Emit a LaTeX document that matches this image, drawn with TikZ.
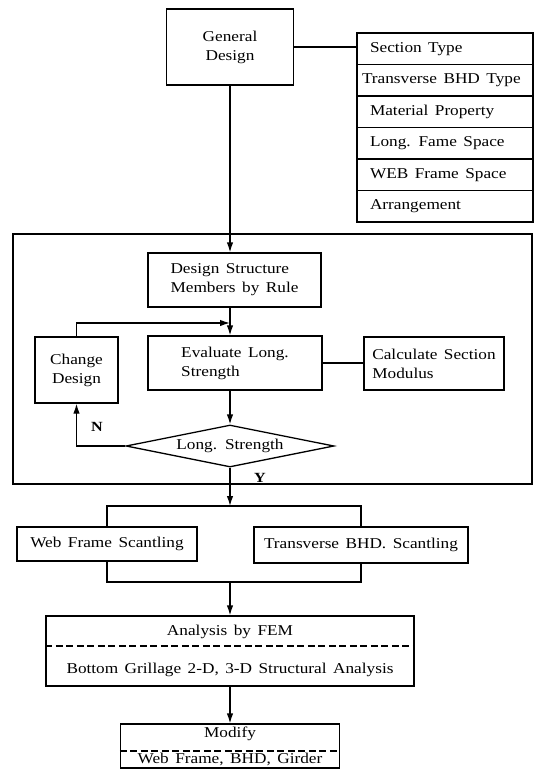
\documentclass[tikz,border=0pt]{standalone}
\usepackage{fontspec}
\setmainfont[FakeStretch=1.15,WordSpace=1.5]{Liberation Serif}
\usetikzlibrary{arrows.meta,shapes.geometric}

\begin{document}
\begin{tikzpicture}[x=1pt, y=-1pt,
        box/.style={draw, line width=1.3pt, inner sep=0pt, align=center,
                    font=\fontsize{15}{19}\selectfont},
        item/.style={draw, line width=1.2pt, minimum width=176pt, minimum height=31.5pt,
                     inner xsep=6pt, inner ysep=0pt, font=\fontsize{15}{19}\selectfont},
        arr/.style={-{Latex[length=10pt,width=6.5pt]}, line width=1.3pt},
        con/.style={line width=1.3pt},
        sep/.style={line width=1.3pt, dash pattern=on 7pt off 3.5pt},
        lbl/.style={font=\bfseries\fontsize{14}{16}\selectfont}
    ]
        \useasboundingbox (0,0) rectangle (545,769);

        % general design and its inputs
        \node[box, minimum width=127pt, minimum height=76pt] (gd) at (230,47) {General\\Design};
        \node[item] (sec) at (445,48.75)  {\makebox[150pt][l]{Section Type}};
        \node[item] (tbt) at (445,80.25)  {\makebox[150pt][l]{\hspace*{-8pt}Transverse BHD Type}};
        \node[item] (mat) at (445,111.75) {\makebox[150pt][l]{Material Property}};
        \node[item] (lfs) at (445,143.25) {\makebox[150pt][l]{Long. Fame Space}};
        \node[item] (wfsp) at (445,174.75) {\makebox[150pt][l]{WEB Frame Space}};
        \node[item] (arg) at (445,206.25) {\makebox[150pt][l]{Arrangement}};
        \draw[con] (gd.east) -- (gd.east -| sec.west);

        % longitudinal strength loop
        \node[draw, line width=1.3pt, minimum width=519pt, minimum height=250pt, inner sep=0pt] (frame) at (272.5,359) {};
        \node[box, align=left, minimum width=173pt, minimum height=54pt] (dsm) at (234.5,280) {Design Structure\\Members by Rule};
        \node[box, align=left, minimum width=174pt, minimum height=54pt] (els) at (235,363) {Evaluate Long.\\Strength};
        \node[box, align=left, minimum width=140pt, minimum height=53pt] (csm) at (434,363.5) {Calculate Section\\Modulus};
        \node[box, minimum width=83pt, minimum height=66pt] (chg) at (76.5,370) {Change\\Design};
        \node[box, diamond, aspect=5, minimum width=208pt, minimum height=42pt] (ls) at (230,446) {Long. Strength};
        \coordinate (join) at (230,323);

        \draw[arr] (gd.south) -- (gd.south |- dsm.north);
        \draw[arr] (gd.south |- dsm.south) -- (gd.south |- els.north);
        \draw[arr] (chg.north) |- (join);
        \draw[con] (els.east) -- (els.east -| csm.west);
        \draw[arr] (gd.south |- els.south) -- (ls.north);
        \draw[arr] (ls.west) -| (chg.south);
        \node[lbl] (no) at (97,427) {N};
        \node[lbl] (yes) at (260,478) {Y};

        % scantlings
        \node[box, minimum width=180pt, minimum height=34pt] (wfs) at (107,544) {Web Frame Scantling};
        \node[box, minimum width=214pt, minimum height=36pt] (tbs) at (361,545) {Transverse BHD. Scantling};
        \coordinate (split) at (230,506);
        \coordinate (merge) at (230,582);
        \draw[arr] (ls.south) -- (split);
        \draw[con] (wfs.north) |- (split) -| (tbs.north);
        \draw[con] (wfs.south) |- (merge) -| (tbs.south);

        % FEM analysis and modification
        \node[box, minimum width=368pt, minimum height=70pt] (ana) at (230,651)
            {Analysis by FEM\\[19pt]Bottom Grillage 2-D, 3-D Structural Analysis};
        \draw[sep] ([yshift=5pt]ana.west) -- ([yshift=5pt]ana.east);
        \node[box, minimum width=219pt, minimum height=44pt] (mod) at (230,746)
            {Modify\\[7pt]Web Frame, BHD, Girder};
        \draw[sep] ([yshift=-5pt]mod.west) -- ([yshift=-5pt]mod.east);
        \draw[arr] (merge) -- (ana.north);
        \draw[arr] (ana.south) -- (mod.north);
    \end{tikzpicture}
\end{document}
